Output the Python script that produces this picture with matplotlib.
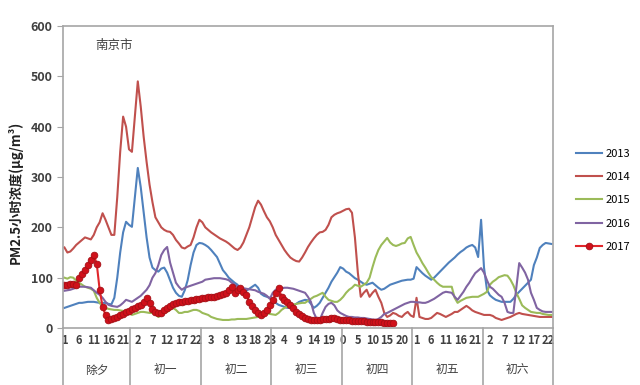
import numpy as np
import matplotlib
matplotlib.use("Agg")
import matplotlib.pyplot as plt
import matplotlib.transforms as mtransforms

plt.rcParams['font.family'] = ['Noto Sans CJK SC', 'DejaVu Sans']

# 小时序列：除夕从1点开始，之后每天0-23点
hours = list(range(1, 24)) + list(range(24)) * 6
days = ['除夕', '初一', '初二', '初三', '初四', '初五', '初六']
day_len = [23, 24, 24, 24, 24, 24, 24]
years = ['2013', '2014', '2015', '2016', '2017']

y2013 = [40, 42, 44, 46, 48, 50, 50, 51, 52, 52,
         52, 51, 50, 50, 50, 48, 47, 60, 100, 150,
         190, 211, 205, 201, 260, 318, 280, 230, 180, 140,
         120, 115, 112, 118, 120, 110, 95, 80, 70, 64,
         62, 75, 95, 125, 150, 165, 169, 168, 165, 161,
         155, 148, 141, 128, 115, 108, 100, 95, 90, 86,
         75, 70, 74, 78, 82, 86, 80, 68, 64, 62,
         60, 56, 50, 46, 44, 42, 40, 42, 45, 48,
         52, 54, 56, 55, 48, 40, 44, 50, 60, 70,
         80, 92, 101, 110, 121, 118, 112, 109, 104, 99,
         96, 92, 88, 86, 88, 90, 85, 80, 76, 78,
         82, 86, 88, 90, 92, 94, 95, 96, 96, 98,
         121, 115, 109, 104, 100, 96, 100, 106, 112, 118,
         124, 130, 135, 140, 146, 151, 155, 160, 163, 165,
         160, 141, 215, 120, 76, 65, 60, 56, 54, 52,
         52, 52, 52, 58, 66, 72, 78, 84, 90, 96,
         125, 140, 159, 165, 169, 168, 167]

y2014 = [160, 150, 152, 158, 165, 170, 175, 180, 178, 176,
         185, 200, 210, 228, 215, 200, 185, 185, 260, 350,
         420, 400, 355, 350, 420, 490, 440, 380, 330, 285,
         250, 220, 210, 200, 195, 192, 191, 185, 175, 168,
         160, 158, 162, 165, 180, 200, 215, 210, 200, 195,
         190, 186, 182, 178, 175, 172, 168, 163, 158, 155,
         160, 170, 185, 200, 220, 240, 253, 245, 232, 220,
         212, 200, 185, 175, 165, 155, 147, 140, 136, 133,
         132, 140, 150, 161, 170, 178, 185, 190, 191, 195,
         205, 220, 225, 228, 230, 233, 236, 237, 229, 180,
         110, 62, 70, 76, 62, 70, 76, 62, 50, 30,
         22, 25, 30, 28, 24, 22, 28, 32, 25, 22,
         60, 22, 20, 18, 18, 20, 25, 30, 28, 25,
         22, 25, 28, 32, 32, 36, 40, 44, 40, 35,
         32, 30, 28, 26, 26, 26, 24, 20, 18, 16,
         18, 20, 22, 25, 28, 30, 28, 27, 26, 25,
         24, 23, 22, 22, 22, 22, 22]

y2015 = [100, 98, 101, 100, 94, 90, 86, 82, 80, 78,
         74, 60, 50, 42, 40, 38, 37, 36, 36, 35,
         34, 32, 30, 26, 28, 30, 32, 32, 31, 30,
         30, 28, 22, 25, 30, 32, 36, 40, 36, 30,
         30, 32, 32, 34, 36, 36, 34, 30, 28, 26,
         22, 20, 18, 17, 16, 16, 16, 17, 17, 18,
         18, 18, 18, 19, 20, 21, 22, 24, 27, 30,
         28, 27, 26, 30, 36, 40, 42, 44, 46, 48,
         49, 50, 50, 54, 58, 62, 64, 67, 70, 62,
         56, 54, 52, 52, 56, 62, 70, 76, 80, 86,
         84, 82, 86, 90, 100, 121, 140, 155, 165, 172,
         179, 170, 165, 163, 165, 168, 169, 178, 181, 165,
         150, 140, 129, 120, 110, 101, 96, 90, 85, 82,
         82, 82, 82, 60, 50, 54, 57, 60, 61, 62,
         62, 62, 65, 68, 72, 86, 92, 96, 101, 103,
         105, 104, 96, 85, 70, 58, 45, 40, 36, 32,
         31, 30, 30, 28, 27, 26, 26]

y2016 = [74, 75, 76, 78, 80, 82, 82, 82, 81, 80,
         75, 70, 66, 60, 52, 46, 44, 43, 42, 45,
         50, 56, 54, 52, 56, 60, 64, 70, 76, 85,
         100, 109, 125, 145, 155, 161, 130, 110, 90, 82,
         76, 80, 82, 84, 86, 88, 90, 92, 96, 97,
         98, 99, 99, 99, 98, 97, 95, 90, 86, 82,
         80, 79, 78, 77, 76, 75, 72, 70, 68, 64,
         58, 70, 76, 78, 79, 80, 80, 79, 78, 76,
         74, 72, 70, 62, 52, 30, 18, 16, 30, 42,
         48, 50, 45, 35, 30, 27, 24, 22, 22, 21,
         21, 20, 20, 19, 18, 17, 16, 18, 22, 28,
         30, 33, 36, 39, 42, 45, 48, 50, 52, 52,
         51, 51, 50, 50, 52, 55, 58, 62, 66, 70,
         72, 71, 70, 62, 56, 64, 72, 82, 90, 100,
         109, 114, 119, 110, 95, 82, 78, 72, 66, 62,
         50, 32, 30, 30, 80, 129, 120, 110, 96, 70,
         56, 40, 36, 33, 32, 32, 32]

y2017 = [86, 86, 88, 87, 86, 100, 108, 115, 125, 135,
         145, 128, 76, 42, 26, 16, 18, 20, 22, 26,
         28, 31, 34, 37, 40, 43, 46, 52, 60, 50,
         38, 32, 30, 30, 35, 40, 44, 48, 50, 51,
         52, 53, 54, 55, 56, 57, 58, 60, 60, 61,
         61, 62, 63, 65, 68, 70, 76, 82, 70, 75,
         80, 72, 66, 52, 44, 36, 30, 26, 30, 36,
         45, 55, 70, 80, 62, 56, 52, 46, 40, 32,
         28, 24, 20, 18, 16, 16, 16, 16, 17, 17,
         18, 19, 20, 18, 16, 16, 15, 15, 14, 14,
         14, 13, 13, 12, 12, 12, 11, 11, 11, 10,
         10, 10, 10]

colors = ['#4F81BD', '#C0504D', '#9BBB59', '#8064A2', '#E0262B']

fig = plt.figure(figsize=(6.4, 3.85), dpi=100)
ax = fig.add_axes([0.0984, 0.148, 0.7656, 0.7845])

x = np.arange(len(hours))
series = [y2013, y2014, y2015, y2016]
for s, c, lab in zip(series, colors[:4], years[:4]):
    ax.plot(x, s, color=c, lw=1.5, label=lab)
ax.plot(np.arange(len(y2017)), y2017, color=colors[4], lw=1.5, marker='o',
        ms=4.8, mfc='#D0111B', mec='#A50F15', mew=0.6, label=years[4])

ax.set_xlim(-0.5, len(hours) - 0.5)
ax.set_ylim(0, 600)
ax.set_yticks(range(0, 601, 100))
for sp in ax.spines.values():
    sp.set_color('#A6A6A6')
    sp.set_linewidth(1.2)
ax.tick_params(axis='y', colors='#A6A6A6', labelcolor='#404040', labelsize=9,
               length=4, direction='out')
for t in ax.get_yticklabels():
    t.set_fontweight('bold')

ax.set_xticks(x[::5])
ax.set_xticklabels([str(h) for h in hours[::5]], fontsize=8, fontweight='bold',
                   color='#404040')
ax.tick_params(axis='x', length=0, pad=4)

# 日期分组
trans = mtransforms.blended_transform_factory(ax.transData, ax.transAxes)
edges = np.concatenate([[0], np.cumsum(day_len)]) - 0.5
for e in edges:
    ax.plot([e, e], [0, -0.19], color='#A6A6A6', lw=1.2, transform=trans,
            clip_on=False)
for i, d in enumerate(days):
    ax.text((edges[i] + edges[i + 1]) / 2, -0.14, d, transform=trans,
            ha='center', va='center', fontsize=8.5, color='#404040')

ax.text(0.065, 0.935, '南京市', transform=ax.transAxes, fontsize=9,
        color='#404040', va='center')
ax.set_ylabel('PM2.5小时浓度(μg/m³)', fontsize=9.5, fontweight='bold',
              color='#202020')
ax.yaxis.set_label_coords(-0.083, 0.45)

ax.legend(loc='upper left', bbox_to_anchor=(0.885, 0.64),
          bbox_transform=fig.transFigure, frameon=False, fontsize=8,
          labelspacing=1.2, handlelength=2.3, handletextpad=0.3)

fig.savefig('out.png', dpi=100)
